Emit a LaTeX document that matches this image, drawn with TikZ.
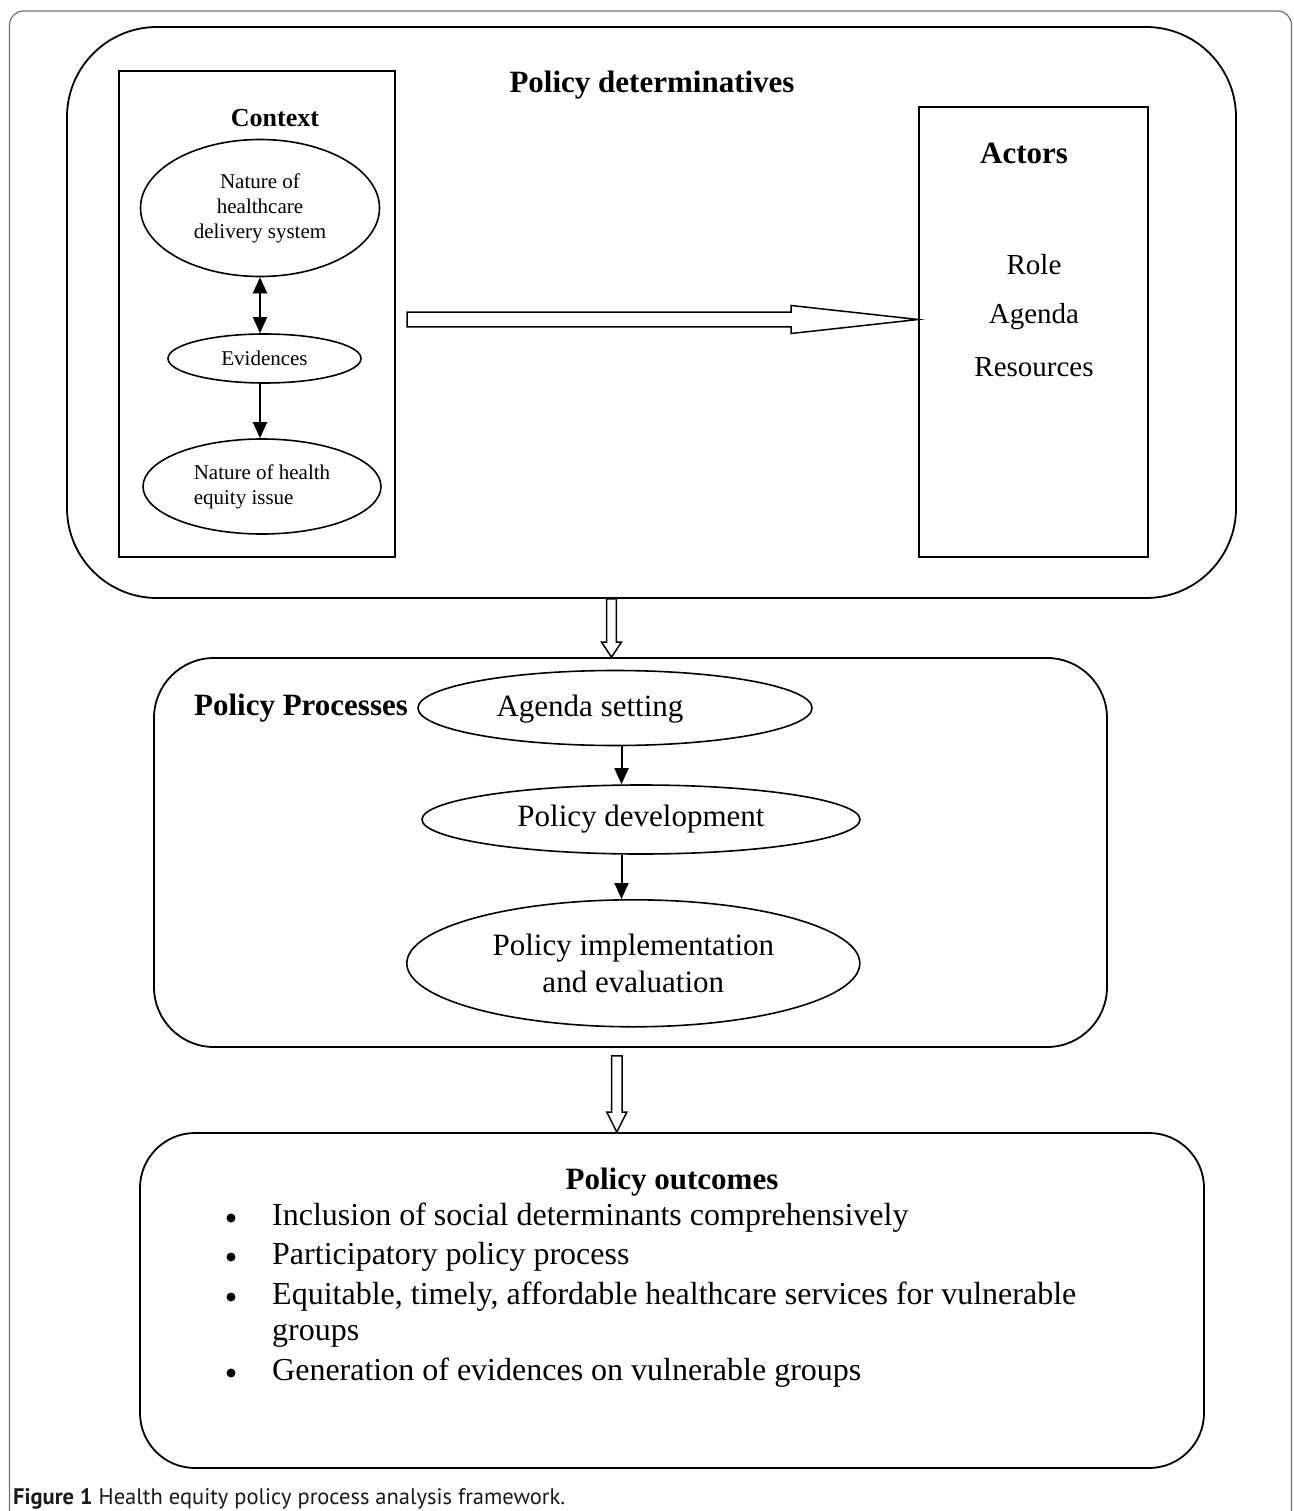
\documentclass[tikz,border=0pt]{standalone}
\usepackage{fontspec}
\setmainfont{Liberation Serif}
\newfontfamily\capfont{PT Sans}
\usetikzlibrary{shapes.geometric,arrows.meta,calc}
\definecolor{framegray}{rgb}{0.45,0.45,0.45}
\begin{document}
\begin{tikzpicture}[x=1pt,y=-1pt,
  sqbox/.style={rectangle, draw=black, line width=1.8pt, inner sep=0pt},
  ell/.style={ellipse, draw=black, line width=1.6pt, inner sep=0pt, align=center},
  conn/.style={line width=2pt, -{Triangle[length=16pt,width=14pt]}},
  dconn/.style={line width=2pt, {Triangle[length=16pt,width=14pt]}-{Triangle[length=16pt,width=14pt]}},
  hollow/.style={draw=black, line width=1.5pt, fill=white, line join=miter},
  fsmall/.style={font=\fontsize{21}{25}\selectfont},
  fmid/.style={font=\fontsize{29}{51}\selectfont},
  fbig/.style={font=\fontsize{31}{36.5}\selectfont},
  flist/.style={font=\fontsize{32}{36.5}\selectfont},
  fbold/.style={font=\fontsize{31}{36}\selectfont\bfseries},
  txt/.style={inner sep=0pt}
]
\useasboundingbox (0,0) rectangle (1293,1511);

% outer figure frame
\draw[framegray, line width=1.2pt, rounded corners=14pt] (9.5,1511) -- (9.5,11) -- (1291.5,11) -- (1291.5,1511);

% big containers
\node[sqbox, rounded corners=90pt, minimum width=1169pt, minimum height=571pt] (det) at (651.5,312.5) {};
\node[sqbox, rounded corners=60pt, minimum width=953pt, minimum height=389pt] (proc) at (630.5,852.5) {};
\node[sqbox, rounded corners=55pt, minimum width=1064pt, minimum height=335pt] (out) at (672,1300.5) {};

% policy determinatives
\node[txt, fbold] (dett) at (652,85) {Policy determinatives};

\node[sqbox, minimum width=276pt, minimum height=486pt] (ctx) at (257,314) {};
\node[txt, font=\fontsize{26}{30}\selectfont\bfseries] (ctxt) at (275,118) {Context};

\node[ell, fsmall, minimum width=239pt, minimum height=137pt] (e1) at (260,208) {Nature of\\healthcare\\delivery system};
\node[ell, fsmall, minimum width=193pt, minimum height=49pt] (ev) at (264.5,358.5) {Evidences};
\node[ell, fsmall, align=left, minimum width=238pt, minimum height=95pt] (e3) at (262,486.5) {Nature of health\\equity issue};

\draw[dconn] (e1.south) -- (e1.south |- ev.north);
\draw[conn] (e1.south |- ev.south) -- (e1.south |- e3.north);

\node[sqbox, minimum width=229pt, minimum height=450pt] (act) at (1033.5,332) {};
\node[txt, fbold] (actt) at (1024,153) {Actors};
\node[txt, fmid] (role) at (1034,265) {Role};
\node[txt, fmid] (agd) at (1034,317) {Agenda};
\node[txt, fmid] (res) at (1034,367) {Resources};

% hollow arrow context -> actors
\coordinate (hA) at (407,319.5);
\coordinate (hB) at (act.west |- hA);
\draw[hollow] ($(hA)+(0,-7.3)$) -- ($(hB)+(-127,-7.3)$) -- ($(hB)+(-127,-14)$) -- (hB)
  -- ($(hB)+(-127,14)$) -- ($(hB)+(-127,7.3)$) -- ($(hA)+(0,7.3)$) -- cycle;

% hollow arrow determinatives -> processes
\coordinate (v1x) at (611.5,0);
\coordinate (v1a) at (v1x |- det.south);
\coordinate (v1b) at (v1x |- proc.north);
\draw[hollow] ($(v1a)+(-4.8,0)$) -- ($(v1b)+(-4.8,-15)$) -- ($(v1b)+(-10,-15)$) -- (v1b)
  -- ($(v1b)+(10,-15)$) -- ($(v1b)+(4.8,-15)$) -- ($(v1a)+(4.8,0)$) -- cycle;

% policy processes
\node[txt, fbold] (proct) at (301,708) {Policy Processes};
\node[ell, minimum width=394pt, minimum height=75pt] (agset) at (615,708) {};
\node[txt, fbig] (agsett) at (590,709) {Agenda setting};
\node[ell, fbig, minimum width=438pt, minimum height=69pt] (pdev) at (641,819.5) {Policy development};
\node[ell, fbig, minimum width=453pt, minimum height=127pt] (pimp) at (633.3,963.3) {Policy implementation\\and evaluation};

\coordinate (px) at (621.5,0);
\draw[conn] (px |- agset.south) -- (px |- pdev.north);
\draw[conn] (px |- pdev.south) -- (px |- pimp.north);

% hollow arrow processes -> outcomes
\coordinate (v2x) at (616.8,0);
\coordinate (v2a) at ($(v2x |- proc.south)+(0,8)$);
\coordinate (v2b) at (v2x |- out.north);
\draw[hollow] ($(v2a)+(-5.3,0)$) -- ($(v2b)+(-5.3,-20)$) -- ($(v2b)+(-10,-20)$) -- (v2b)
  -- ($(v2b)+(10,-20)$) -- ($(v2b)+(5.3,-20)$) -- ($(v2a)+(5.3,0)$) -- cycle;

% policy outcomes
\node[txt, fbold] (outt) at (672,1182) {Policy outcomes};
\fill (231,1218) circle (4.5);
\fill (231,1257) circle (4.5);
\fill (231,1297) circle (4.5);
\fill (231,1373) circle (4.5);
\node[txt, flist, anchor=base west] (b1) at (272,1225) {Inclusion of social determinants comprehensively};
\node[txt, flist, anchor=base west] (b2) at (272,1264.5) {Participatory policy process};
\node[txt, flist, anchor=base west] (b3a) at (272,1304) {Equitable, timely, affordable healthcare services for vulnerable};
\node[txt, flist, anchor=base west] (b3b) at (272,1340.5) {groups};
\node[txt, flist, anchor=base west] (b4) at (272,1380) {Generation of evidences on vulnerable groups};

% caption
\node[txt, anchor=base west, font=\capfont\fontsize{22.5}{26}\selectfont, text=black!90] (cap) at (13,1504) {\textbf{Figure 1} Health equity policy process analysis framework.};
\end{tikzpicture}
\end{document}
